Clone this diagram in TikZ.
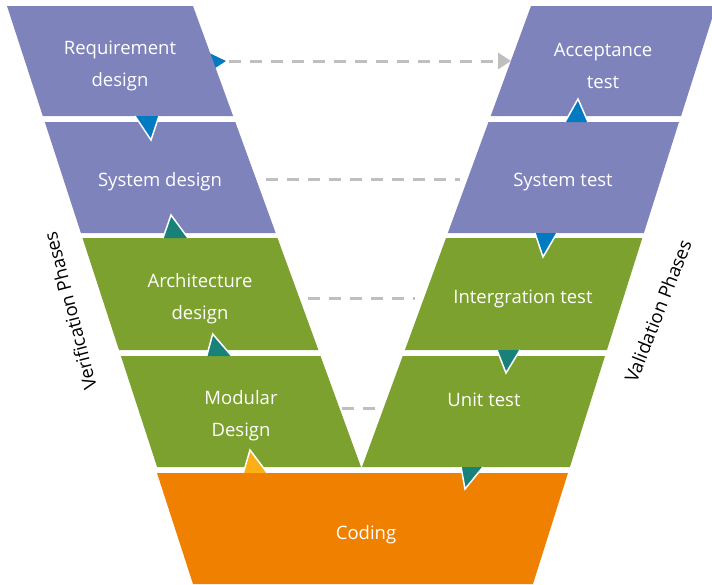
\documentclass[tikz,border=0pt]{standalone}
\usepackage{fontspec}
\setmainfont{Open Sans}
\usetikzlibrary{arrows.meta}
\definecolor{vpurple}{RGB}{127,131,187}
\definecolor{vgreen}{RGB}{124,161,46}
\definecolor{vorange}{RGB}{240,128,0}
\definecolor{vblue}{RGB}{0,122,192}
\definecolor{vteal}{RGB}{24,130,122}
\definecolor{vyellow}{RGB}{252,175,23}
\definecolor{vgray}{RGB}{191,191,191}
\begin{document}
\begin{tikzpicture}[x=1pt,y=-1pt,
  phase/.style={text=white,font=\fontsize{18.5}{32}\selectfont,align=center,inner sep=0pt},
  side/.style={text=black,font=\fontsize{18.5}{20}\selectfont,inner sep=0pt},
  link/.style={draw=vgray,line width=3pt,dash pattern=on 12pt off 9pt},
  tri/.style={draw=white,line width=1.5pt,line join=miter}]
\useasboundingbox (0,0) rectangle (712,584);
\clip (0,0) rectangle (712,584);
% hidden arrow triangle behind requirement design
\fill[vblue] (205,51) -- (226,61) -- (209,72) -- cycle;
% left column
\fill[vpurple] (7,6) -- (193,6) -- (233.1,116) -- (42.8,116) -- cycle;
\fill[vpurple] (44.8,122) -- (235.3,122) -- (275.7,233) -- (80.9,233) -- cycle;
\fill[vgreen] (82.5,238) -- (277.5,238) -- (318.4,350) -- (119,350) -- cycle;
\fill[vgreen] (120.9,356) -- (320.5,356) -- (361,467) -- (157.1,467) -- cycle;
% right column
\fill[vpurple] (531,6) -- (716,6) -- (681.1,116) -- (490.7,116) -- cycle;
\fill[vpurple] (488.5,122) -- (679,122) -- (643.9,233) -- (447.8,233) -- cycle;
\fill[vgreen] (446,238) -- (642.3,238) -- (606.9,350) -- (404.9,350) -- cycle;
\fill[vgreen] (402.7,356) -- (605,356) -- (569.9,467) -- (362,467) -- cycle;
% coding
\fill[vorange] (157,473) -- (568,473) -- (533,584) -- (193,584) -- cycle;
% small triangles
\fill[vblue] (135,116) -- (151,140) -- (159,116) -- cycle;
\draw[tri] (135,116) -- (151,140) -- (159,116);
\fill[vteal] (163,238) -- (171,215) -- (188,238) -- cycle;
\draw[tri] (163,238) -- (171,215) -- (188,238);
\fill[vteal] (206.7,356) -- (212.7,334) -- (231.7,356) -- cycle;
\draw[tri] (206.7,356) -- (212.7,334) -- (231.7,356);
\fill[vyellow] (243.3,473) -- (250,450) -- (267.3,473) -- cycle;
\draw[tri] (243.3,473) -- (250,450) -- (267.3,473);
\fill[vblue] (565,122) -- (578,99) -- (588,122) -- cycle;
\draw[tri] (565,122) -- (578,99) -- (588,122);
\fill[vblue] (535,233) -- (543,257) -- (557,233) -- cycle;
\draw[tri] (535,233) -- (543,257) -- (557,233);
\fill[vteal] (497,350) -- (506,373) -- (520,350) -- cycle;
\draw[tri] (497,350) -- (506,373) -- (520,350);
\fill[vteal] (461,467) -- (465,489) -- (483,467) -- cycle;
\draw[tri] (461,467) -- (465,489) -- (483,467);
% texts
\node[phase] (req) at (120,66) {Requirement\\design};
\node[phase] (sysd) at (160,182) {System design};
\node[phase] (arch) at (200,299) {Architecture\\design};
\node[phase] (mod) at (241,416) {Modular\\Design};
\node[phase] (acc) at (603,66) {Acceptance\\test};
\node[phase] (syst) at (563,182) {System test};
\node[phase] (integ) at (523,299) {Intergration test};
\node[phase] (unit) at (484,400) {Unit test};
\node[phase] (cod) at (366,535) {Coding};
\node[side,rotate=104.5] (ver) at (70,311) {Verification Phases};
\node[side,rotate=68.5] (val) at (658,311) {Validation Phases};
% dashed connectors
\coordinate (reqR) at (229,61);
\coordinate (accL) at (511,61);
\coordinate (sysdR) at (266,179);
\coordinate (sysL) at (460,179);
\coordinate (archR) at (308,298);
\coordinate (integL) at (415,298);
\coordinate (modR) at (342,408);
\coordinate (unitL) at (378,408);
\draw[link,-{Triangle[length=13pt,width=16pt,fill=vgray]}] (reqR) -- (accL);
\draw[link] (sysdR) -- (sysL);
\draw[link] (archR) -- (integL);
\draw[link] (modR) -- (unitL);
\end{tikzpicture}
\end{document}
